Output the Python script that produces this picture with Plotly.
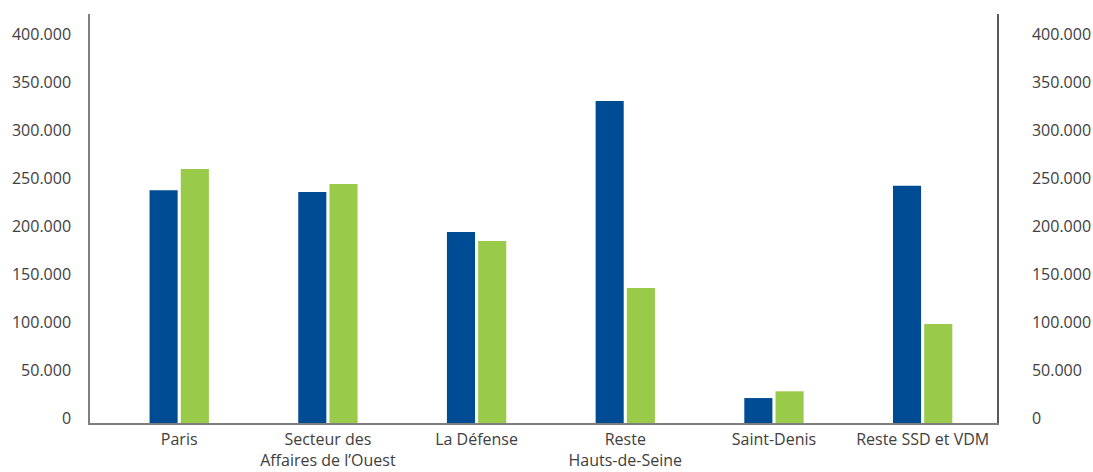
import plotly.graph_objects as go

# Zones de bureaux
categories = [
    "Paris",
    "Secteur des<br>Affaires de l’Ouest",
    "La Défense",
    "Reste<br>Hauts-de-Seine",
    "Saint-Denis",
    "Reste SSD et VDM",
]
serie_bleue = [242500, 240500, 199000, 335500, 26000, 247000]
serie_verte = [264500, 249000, 189500, 140500, 33000, 103000]

tick_vals = [0, 50000, 100000, 150000, 200000, 250000, 300000, 350000, 400000]
tick_text = ["0", "50.000", "100.000", "150.000", "200.000", "250.000",
             "300.000", "350.000", "400.000"]

BLEU = "#004C94"
VERT = "#99CA4A"
TEXTE = "#404040"
AXE = "#7f7f7f"
FONT = "Open Sans"

x_pos = list(range(len(categories)))

fig = go.Figure()
fig.add_trace(go.Bar(x=x_pos, y=serie_bleue, marker=dict(color=BLEU, line_width=0),
                     showlegend=False))
fig.add_trace(go.Bar(x=x_pos, y=serie_verte, marker=dict(color=VERT, line_width=0),
                     showlegend=False))
# invisible trace so the right-hand axis is drawn
fig.add_trace(go.Scatter(x=[0], y=[0], yaxis="y2", mode="markers",
                         marker=dict(opacity=0), showlegend=False, hoverinfo="skip"))

yrange = [0, 426000]

fig.update_layout(
    width=1093, height=472,
    margin=dict(l=90, r=96, t=14, b=49),
    paper_bgcolor="white", plot_bgcolor="white",
    barmode="group", bargap=0.58, bargroupgap=0.1,
    font=dict(family=FONT, size=16, color=TEXTE),
    xaxis=dict(
        range=[-0.6, 5.5], tickvals=x_pos, ticktext=categories,
        showline=True, linecolor=AXE, linewidth=1.5,
        showgrid=False, zeroline=False, ticks="",
        automargin=False, ticklabelstandoff=1,
        tickfont=dict(family=FONT, size=16, color=TEXTE),
    ),
    yaxis=dict(
        range=yrange, tickvals=tick_vals, ticktext=tick_text,
        showline=True, linecolor=AXE, linewidth=1.5,
        showgrid=False, zeroline=False, ticks="",
        automargin=False,
        ticklabelstandoff=14, ticklabelshift=-5,
        tickfont=dict(family=FONT, size=16, color=TEXTE),
    ),
    yaxis2=dict(
        range=yrange, tickvals=tick_vals, ticktext=tick_text,
        overlaying="y", side="right",
        showline=True, linecolor="#5a5a5a", linewidth=1.5,
        showgrid=False, zeroline=False, ticks="",
        automargin=False,
        ticklabelstandoff=30, ticklabelshift=-5,
        tickfont=dict(family=FONT, size=16, color=TEXTE),
    ),
)

fig.write_html("out.html")
